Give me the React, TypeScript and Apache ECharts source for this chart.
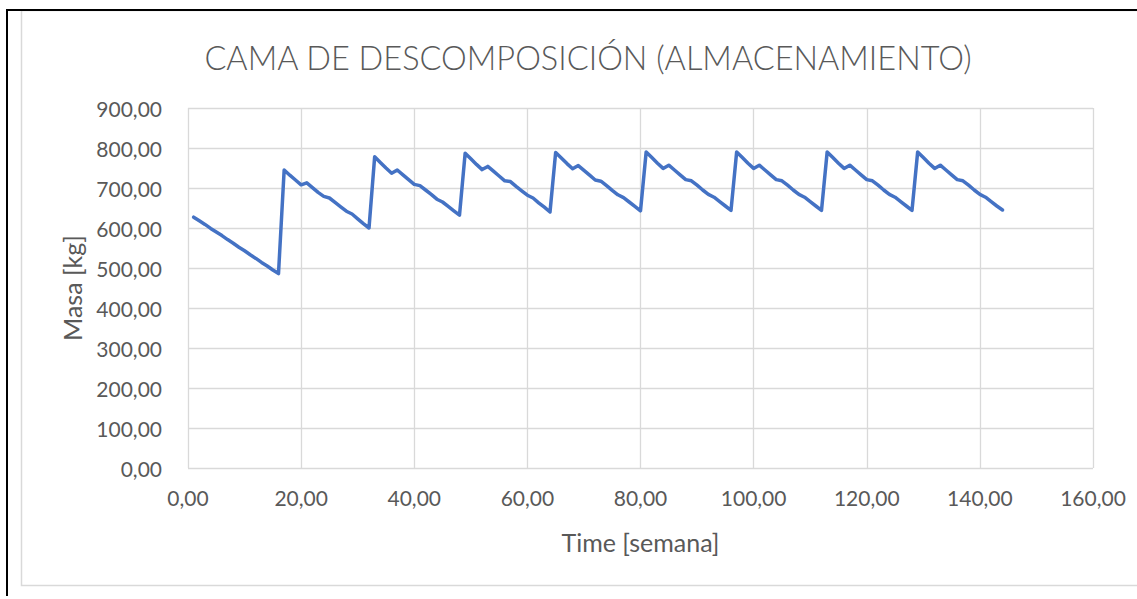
import React, { useEffect, useRef } from "react";
import * as echarts from "echarts";

const chartTitle = "CAMA DE DESCOMPOSICIÓN (ALMACENAMIENTO)";
const xAxisTitle = "Time [semana]";
const yAxisTitle = "Masa [kg]";

const weeks = [
  1, 2, 3, 4, 5, 6, 7, 8, 9, 10, 11, 12, 13, 14, 15, 16,
  17, 18, 19, 20, 21, 22, 23, 24, 25, 26, 27, 28, 29, 30, 31, 32,
  33, 34, 35, 36, 37, 38, 39, 40, 41, 42, 43, 44, 45, 46, 47, 48,
  49, 50, 51, 52, 53, 54, 55, 56, 57, 58, 59, 60, 61, 62, 63, 64,
  65, 66, 67, 68, 69, 70, 71, 72, 73, 74, 75, 76, 77, 78, 79, 80,
  81, 82, 83, 84, 85, 86, 87, 88, 89, 90, 91, 92, 93, 94, 95, 96,
  97, 98, 99, 100, 101, 102, 103, 104, 105, 106, 107, 108, 109, 110, 111, 112,
  113, 114, 115, 116, 117, 118, 119, 120, 121, 122, 123, 124, 125, 126, 127, 128,
  129, 130, 131, 132, 133, 134, 135, 136, 137, 138, 139, 140, 141, 142, 143, 144,
];

const masa = [
  627, 618, 609, 599, 590, 581, 571, 562, 552, 543, 533, 524, 514, 505, 495, 486,
  745, 732, 720, 708, 713, 701, 689, 679, 675, 664, 653, 642, 635, 623, 611, 600,
  778, 764, 750, 737, 745, 733, 721, 709, 706, 695, 684, 672, 665, 654, 643, 632,
  787, 773, 759, 746, 754, 742, 730, 718, 716, 704, 693, 682, 675, 663, 652, 640,
  789, 775, 761, 748, 756, 744, 732, 720, 717, 706, 694, 683, 676, 665, 654, 643,
  790, 776, 762, 749, 757, 745, 733, 721, 718, 707, 695, 684, 677, 666, 655, 644,
  790, 776, 762, 749, 757, 745, 733, 721, 718, 707, 695, 684, 677, 666, 655, 644,
  790, 776, 762, 749, 757, 745, 733, 721, 718, 707, 695, 684, 677, 666, 655, 644,
  790, 776, 762, 749, 757, 745, 733, 721, 718, 707, 695, 684, 677, 666, 655, 645,
];

const xMin = 0;
const xMax = 160;
const xStep = 20;
const yMin = 0;
const yMax = 900;
const yStep = 100;

const fmt = (v: number) => v.toFixed(2).replace(".", ",");

export default function App() {
  const ref = useRef<HTMLDivElement>(null);

  useEffect(() => {
    if (!ref.current) return;
    const chart = echarts.init(ref.current, null, { renderer: "svg" });
    const font = "Lato, 'Open Sans', sans-serif";
    const textColor = "#595959";
    const gridColor = "#d9d9d9";

    chart.setOption({
      animation: false,
      backgroundColor: "#ffffff",
      textStyle: { fontFamily: font },
      grid: { left: 188, top: 108, width: 905, height: 360, containLabel: false },
      xAxis: {
        type: "value",
        min: xMin,
        max: xMax,
        interval: xStep,
        axisLine: { show: false },
        axisTick: { show: false },
        splitLine: { show: true, lineStyle: { color: gridColor, width: 1.3 } },
        axisLabel: {
          color: textColor,
          fontSize: 21,
          fontFamily: font,
          margin: 19,
          formatter: (v: number) => fmt(v),
        },
        name: xAxisTitle,
        nameLocation: "middle",
        nameGap: 61,
        nameTextStyle: { color: textColor, fontSize: 25, fontFamily: font },
      },
      yAxis: {
        type: "value",
        min: yMin,
        max: yMax,
        interval: yStep,
        axisLine: { show: false },
        axisTick: { show: false },
        splitLine: { show: true, lineStyle: { color: gridColor, width: 1.3 } },
        axisLabel: {
          color: textColor,
          fontSize: 21,
          fontFamily: font,
          margin: 26,
          formatter: (v: number) => fmt(v),
        },
        name: yAxisTitle,
        nameLocation: "middle",
        nameGap: 104,
        nameRotate: 90,
        nameTextStyle: { color: textColor, fontSize: 25, fontFamily: font },
      },
      graphic: [
        {
          type: "rect",
          silent: true,
          shape: { x: 21.5, y: 10.5, width: 1200, height: 575 },
          style: { fill: "none", stroke: gridColor, lineWidth: 1.5 },
          z: 0,
        },
        {
          type: "rect",
          silent: true,
          shape: { x: 6, y: 9, width: 2, height: 587 },
          style: { fill: "#000000" },
          z: 10,
        },
        {
          type: "rect",
          silent: true,
          shape: { x: 6, y: 9, width: 1131, height: 2 },
          style: { fill: "#000000" },
          z: 10,
        },
        {
          type: "text",
          silent: true,
          x: 588,
          y: 57,
          style: {
            text: chartTitle,
            fill: textColor,
            fontSize: 32.5,
            fontFamily: font,
            fontWeight: 300,
            textAlign: "center",
            textVerticalAlign: "middle",
          },
          z: 10,
        },
      ],
      series: [
        {
          type: "line",
          data: weeks.map((w, i) => [w, masa[i]]),
          showSymbol: false,
          symbol: "none",
          smooth: false,
          lineStyle: { color: "#4472C4", width: 3.5, cap: "round", join: "round" },
        },
      ],
    });

    return () => chart.dispose();
  }, []);

  return (
    <div
      ref={ref}
      style={{ position: "fixed", left: 0, top: 0, width: 1137, height: 599 }}
    />
  );
}
